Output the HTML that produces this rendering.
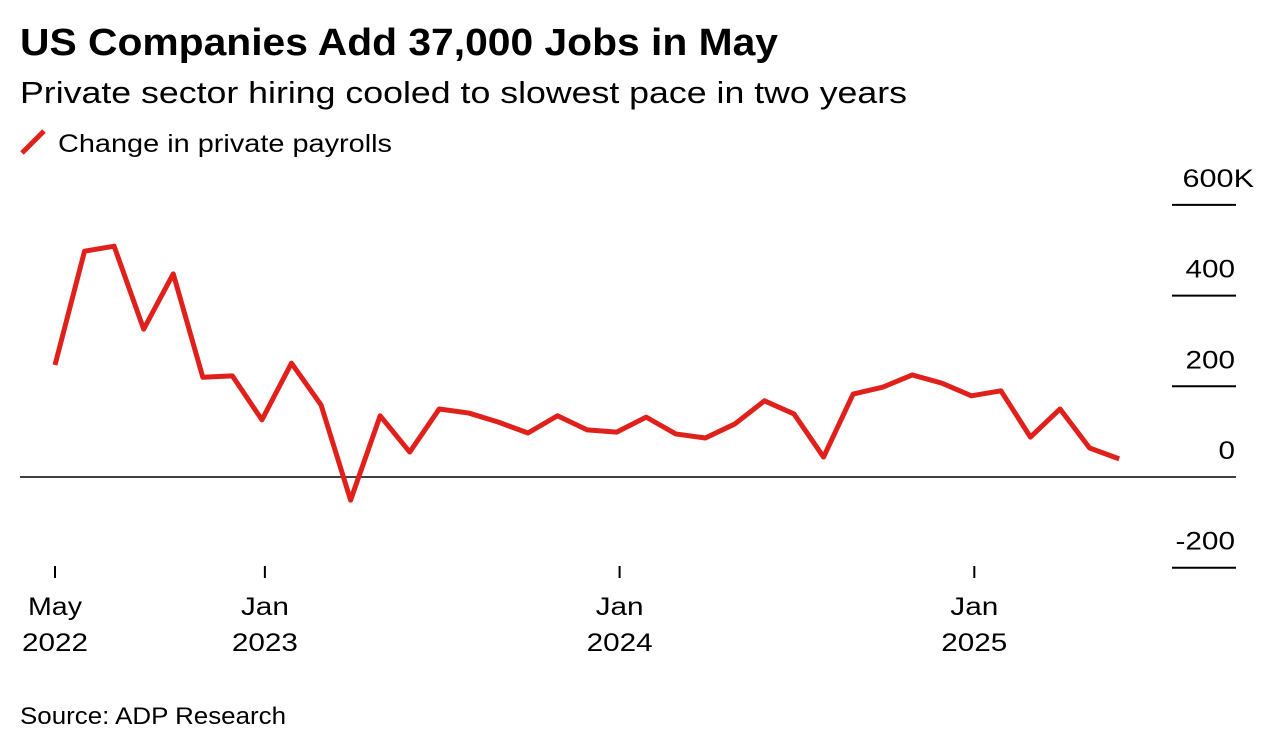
<!DOCTYPE html>
<html><head><meta charset="utf-8"><style>
body{margin:0;background:#fff;font-family:"Liberation Sans",sans-serif;color:#000}
svg text{font-family:"Liberation Sans",sans-serif}
</style></head><body>
<svg width="1268" height="748">
<text x="20" y="55" font-size="38" font-weight="bold" textLength="758" lengthAdjust="spacingAndGlyphs">US Companies Add 37,000 Jobs in May</text>
<text x="20" y="103" font-size="31" textLength="887" lengthAdjust="spacingAndGlyphs">Private sector hiring cooled to slowest pace in two years</text>
<line x1="22" y1="153" x2="44" y2="131" stroke="#e0201b" stroke-width="5"/>
<text x="58" y="152" font-size="25" textLength="334" lengthAdjust="spacingAndGlyphs">Change in private payrolls</text>
<g id="yaxis"></g><g id="xaxis"></g><g id="series"></g>
<text x="20" y="724" font-size="24" textLength="266" lengthAdjust="spacingAndGlyphs">Source: ADP Research</text>
</svg>
<script>
const values=[247,498,509,326,448,220,223,126,251,159,-51,135,55,150,141,121,97,135,104,99,132,95,86,117,168,139,44,183,198,225,207,179,190,88,150,64,40];
const yTicks=[-200,0,200,400,600];
const yTickLabels=["-200","0","200","400","600K"];
const xTickIdx=[0,7.1,19.1,31.1];
const xTickLines1=["May","Jan","Jan","Jan"];
const xTickLines2=["2022","2023","2024","2025"];
const NS="http://www.w3.org/2000/svg";
const y=v=>477-v*0.4535, x=i=>55+i*29.56;
function mk(t,a,p){const e=document.createElementNS(NS,t);for(const k in a)e.setAttribute(k,a[k]);p.appendChild(e);return e;}
function tw(s){let w=0;for(const c of s)w+=c==='K'?22:c==='-'?10:c==='M'?22:c==='a'||c==='y'?14:c==='J'?12:c==='n'?14:16.5;return w;}
const ya=document.getElementById('yaxis');
yTicks.forEach((v,i)=>{
 const l=mk('line',{x1:v===0?20:1172,x2:1236,y1:y(v),y2:y(v),stroke:'#000','stroke-width':v===0?1.5:2},ya);
 
 
 const s=yTickLabels[i];const hasK=s.endsWith('K');
 const t=mk('text',{x:hasK?1254:1235,y:y(v)-18,'text-anchor':'end','font-size':25,textLength:tw(s),lengthAdjust:'spacingAndGlyphs'},ya);t.textContent=s;
 
 
});
const xa=document.getElementById('xaxis');
xTickIdx.forEach((d,i)=>{
 const px=x(d);
 const l=mk('line',{x1:px,x2:px,y1:566,y2:578,stroke:'#000','stroke-width':2},xa);
 
 
 const t1=mk('text',{x:px,y:615,'text-anchor':'middle','font-size':25,textLength:xTickLines1[i]==='May'?54:48,lengthAdjust:'spacingAndGlyphs'},xa);t1.textContent=xTickLines1[i];
 
 
 const t2=mk('text',{x:px,y:651,'text-anchor':'middle','font-size':25,textLength:66,lengthAdjust:'spacingAndGlyphs'},xa);t2.textContent=xTickLines2[i];
 
 
});
const p=mk('polyline',{points:values.map((v,i)=>x(i)+','+y(v)).join(' '),fill:'none',stroke:'#e0201b','stroke-width':5,'stroke-linejoin':'round'},document.getElementById('series'));


</script>
</body></html>
